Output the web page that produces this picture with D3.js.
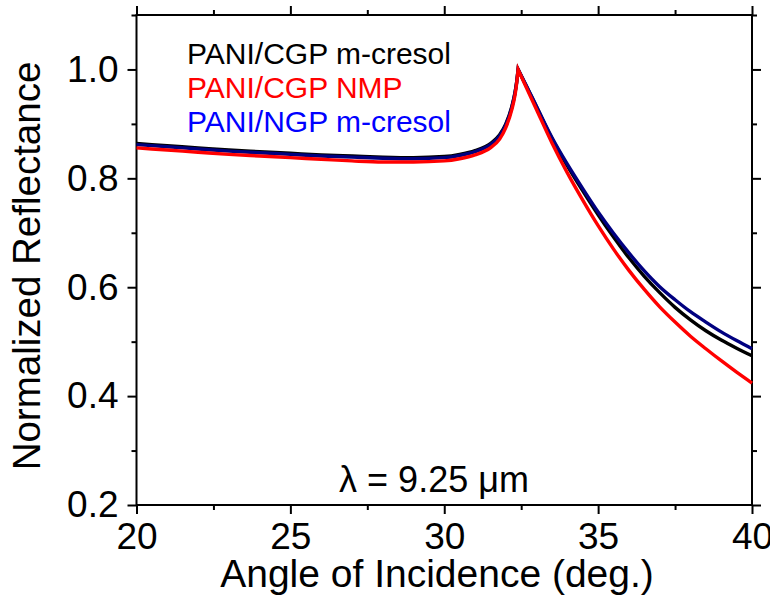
<!DOCTYPE html>
<html>
<head>
<meta charset="utf-8">
<script src="https://cdn.jsdelivr.net/npm/d3@7"></script>
<style>
body { margin: 0; background: #fff; }
text { font-family: "Liberation Sans", Arial, sans-serif; }
</style>
</head>
<body>
<svg id="chart" width="770" height="610"></svg>
<script>
// angle of incidence (deg.)
var angles = [20, 21, 22, 23, 24, 25, 26, 27, 28, 29, 30, 30.5, 31, 31.5, 31.8, 32, 32.2, 32.3, 32.35, 32.4,
  32.6, 33, 33.5, 34, 34.5, 35, 35.5, 36, 36.5, 37, 37.5, 38, 38.5, 39, 39.5, 40];
var peakIndex = 19;

var cgpMcresol = [0.864, 0.860, 0.856, 0.852, 0.849, 0.846, 0.843, 0.841, 0.839, 0.838, 0.840, 0.844, 0.851, 0.864, 0.880, 0.900, 0.933, 0.958, 0.976, 1.0,
  0.977, 0.931, 0.873, 0.823, 0.777, 0.733, 0.692, 0.654, 0.620, 0.590, 0.563, 0.540, 0.520, 0.503, 0.488, 0.474];
var cgpNmp = [0.856, 0.852, 0.848, 0.844, 0.841, 0.838, 0.835, 0.832, 0.830, 0.830, 0.832, 0.836, 0.843, 0.856, 0.872, 0.893, 0.927, 0.953, 0.973, 1.0,
  0.975, 0.926, 0.865, 0.810, 0.760, 0.713, 0.670, 0.631, 0.596, 0.564, 0.536, 0.510, 0.487, 0.465, 0.444, 0.424];
var ngpMcresol = [0.862, 0.858, 0.854, 0.850, 0.847, 0.844, 0.841, 0.839, 0.837, 0.836, 0.838, 0.842, 0.849, 0.862, 0.878, 0.898, 0.931, 0.957, 0.975, 1.0,
  0.978, 0.932, 0.875, 0.826, 0.781, 0.738, 0.699, 0.663, 0.630, 0.601, 0.577, 0.555, 0.536, 0.518, 0.502, 0.487];

var seriesNames = ["PANI/CGP m-cresol", "PANI/CGP NMP", "PANI/NGP m-cresol"];
var xTicks = [20, 25, 30, 35, 40];
var xMinor = [22.5, 27.5, 32.5, 37.5];
var yTicks = [0.2, 0.4, 0.6, 0.8, 1.0];
var yMinor = [0.3, 0.5, 0.7, 0.9, 1.1];

var plotL = 136.5, plotR = 752, plotT = 15, plotB = 505;
var svg = d3.select("#chart");

var x = d3.scaleLinear().domain([20, 40]).range([plotL, plotR]);
var y = d3.scaleLinear().domain([0.2, 1.1]).range([plotB, plotT]);

function styleAxis(g) {
  g.select(".domain").remove();
  g.selectAll("line").attr("stroke", "#000").attr("stroke-width", 2);
  g.selectAll("text").attr("font-size", 37).attr("fill", "#000")
    .style("font-family", "'Liberation Sans', Arial, sans-serif");
}

// bottom
svg.append("g").attr("transform", "translate(0," + plotB + ")")
  .call(d3.axisBottom(x).tickValues(xTicks).tickSize(9).tickPadding(9).tickFormat(d3.format("d")))
  .call(styleAxis);
svg.append("g").attr("transform", "translate(0," + plotB + ")")
  .call(d3.axisBottom(x).tickValues(xMinor).tickSize(5).tickFormat(""))
  .call(styleAxis);
// top
svg.append("g").attr("transform", "translate(0," + plotT + ")")
  .call(d3.axisTop(x).tickValues(xTicks).tickSize(9).tickFormat(""))
  .call(styleAxis);
svg.append("g").attr("transform", "translate(0," + plotT + ")")
  .call(d3.axisTop(x).tickValues(xMinor).tickSize(5).tickFormat(""))
  .call(styleAxis);
// left
svg.append("g").attr("transform", "translate(" + plotL + ",0)")
  .call(d3.axisLeft(y).tickValues(yTicks).tickSize(9).tickPadding(9).tickFormat(d3.format(".1f")))
  .call(styleAxis);
svg.append("g").attr("transform", "translate(" + plotL + ",0)")
  .call(d3.axisLeft(y).tickValues(yMinor).tickSize(5).tickFormat(""))
  .call(styleAxis);
// right
svg.append("g").attr("transform", "translate(" + plotR + ",0)")
  .call(d3.axisRight(y).tickValues(yTicks).tickSize(9).tickFormat(""))
  .call(styleAxis);
svg.append("g").attr("transform", "translate(" + plotR + ",0)")
  .call(d3.axisRight(y).tickValues(yMinor).tickSize(5).tickFormat(""))
  .call(styleAxis);

// frame
svg.append("rect")
  .attr("x", plotL).attr("y", plotT)
  .attr("width", plotR - plotL).attr("height", plotB - plotT)
  .attr("fill", "none").attr("stroke", "#000").attr("stroke-width", 2);

// curves: rising and falling parts joined at the cusp
var line = d3.line()
  .x(function(d) { return x(d[0]); })
  .y(function(d) { return y(d[1]); })
  .curve(d3.curveMonotoneX);

function curvePath(vals) {
  var pts = angles.map(function(a, i) { return [a, vals[i]]; });
  var up = line(pts.slice(0, peakIndex + 1));
  var down = line(pts.slice(peakIndex));
  return up + "L" + down.slice(1);
}

var curves = [
  { vals: cgpMcresol, color: "#000000" },
  { vals: ngpMcresol, color: "#000080" },
  { vals: cgpNmp, color: "#ff0000" }
];
curves.forEach(function(c) {
  svg.append("path")
    .attr("d", curvePath(c.vals))
    .attr("fill", "none")
    .attr("stroke", c.color)
    .attr("stroke-width", 3.4)
    .attr("stroke-linejoin", "miter")
    .attr("stroke-miterlimit", 12);
});

// legend
var legendColors = ["#000000", "#ff0000", "#0000ff"];
svg.selectAll(".legend")
  .data(seriesNames)
  .enter().append("text")
  .attr("x", 187)
  .attr("y", function(d, i) { return 64 + i * 34; })
  .attr("font-size", 30)
  .attr("fill", function(d, i) { return legendColors[i]; })
  .text(function(d) { return d; });

// annotation
svg.append("text")
  .attr("x", 434).attr("y", 492)
  .attr("text-anchor", "middle")
  .attr("font-size", 36)
  .text("λ = 9.25 μm");

// axis titles
svg.append("text")
  .attr("x", 437).attr("y", 587)
  .attr("text-anchor", "middle")
  .attr("font-size", 39)
  .text("Angle of Incidence (deg.)");

svg.append("text")
  .attr("transform", "translate(40,266) rotate(-90)")
  .attr("text-anchor", "middle")
  .attr("font-size", 38.5)
  .text("Normalized Reflectance");
</script>
</body>
</html>
